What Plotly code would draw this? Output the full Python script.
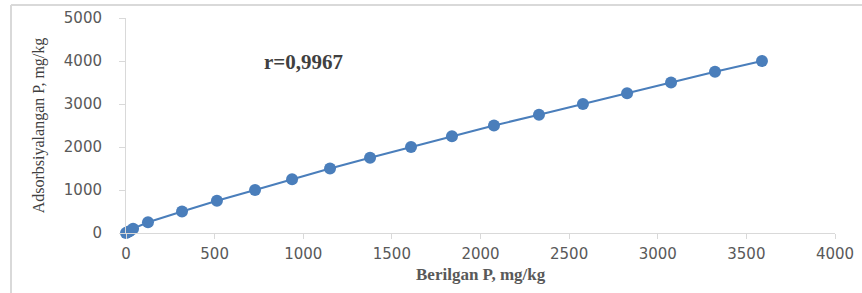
import plotly.graph_objects as go

given_p = [0, 8, 20, 40, 124, 316, 513, 728, 937, 1151, 1377, 1608, 1839, 2076, 2330, 2578, 2827, 3075, 3323, 3588]
adsorbed_p = [0, 15, 40, 100, 250, 500, 750, 1000, 1250, 1500, 1750, 2000, 2250, 2500, 2750, 3000, 3250, 3500, 3750, 4000]
x_ticks = [0, 500, 1000, 1500, 2000, 2500, 3000, 3500, 4000]
y_ticks = [0, 1000, 2000, 3000, 4000, 5000]

blue = "#4a7ebb"
grey_line = "#d9d9d9"
tick_font = dict(family="DejaVu Sans", size=15, color="#595959")

fig = go.Figure(go.Scatter(
    x=given_p, y=adsorbed_p, mode="lines+markers",
    line=dict(color=blue, width=2),
    marker=dict(color=blue, size=12),
    showlegend=False, cliponaxis=False,
))

fig.update_layout(
    width=862, height=293,
    margin=dict(l=126, r=27, t=18, b=60),
    paper_bgcolor="white", plot_bgcolor="white",
    xaxis=dict(range=[0, 4000], tickvals=x_ticks, showgrid=False, zeroline=False,
               showline=True, linecolor=grey_line, linewidth=1, automargin=False,
               ticks="outside", ticklen=5, tickcolor=grey_line, ticklabelstandoff=2,
               tickfont=tick_font),
    yaxis=dict(range=[0, 5000], tickvals=y_ticks, showgrid=False, zeroline=False,
               showline=True, linecolor=grey_line, linewidth=1, automargin=False,
               ticks="outside", ticklen=6, tickcolor=grey_line, ticklabelstandoff=14,
               tickfont=tick_font,
               title=dict(text="Adsorbsiyalangan P, mg/kg",
                          font=dict(family="Liberation Serif", size=16, color="#404040"))),
    annotations=[
        dict(text="<b>r=0,9967</b>", x=0.251, y=0.795, xref="paper", yref="paper",
             showarrow=False, xanchor="center", yanchor="middle",
             font=dict(family="Liberation Serif", size=21, color="#404040")),
        dict(text="<b>Berilgan P, mg/kg</b>", x=0.5, y=-0.195, xref="paper", yref="paper",
             showarrow=False, xanchor="center", yanchor="middle",
             font=dict(family="Liberation Serif", size=17, color="#595959")),
    ],
    shapes=[
        dict(type="line", xref="paper", yref="paper", x0=-0.1622, x1=-0.1622, y0=-0.35, y1=1.0605,
             line=dict(color=grey_line, width=2)),
        dict(type="line", xref="paper", yref="paper", x0=-0.1622, x1=1.1, y0=1.0605, y1=1.0605,
             line=dict(color=grey_line, width=2)),
    ],
)

fig.write_html("out.html", config={"displayModeBar": False},
               post_script="document.body.style.margin='0';")
